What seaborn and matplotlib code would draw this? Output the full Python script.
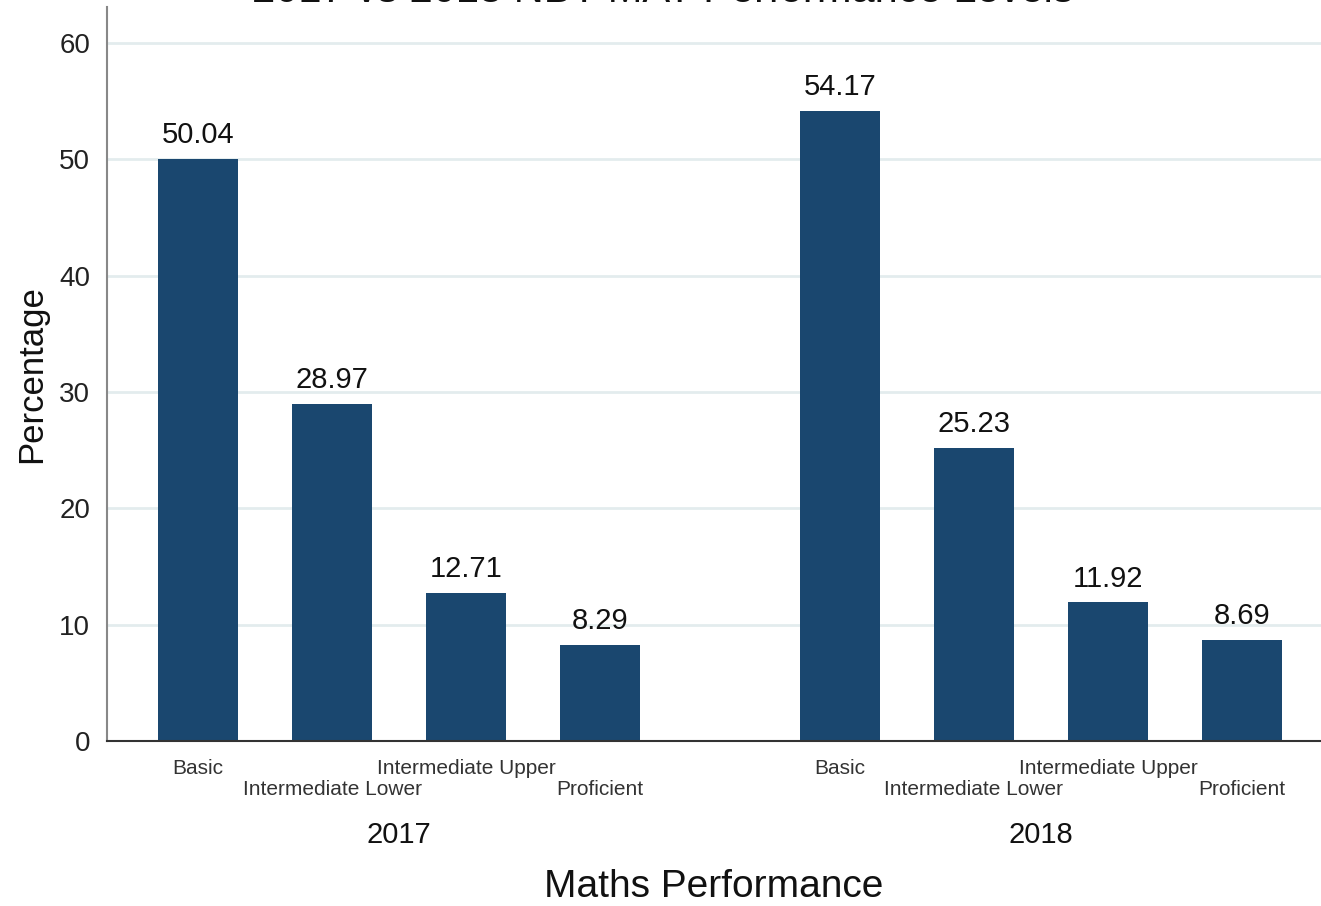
import numpy as np
import pandas as pd
import matplotlib
matplotlib.use("Agg")
import matplotlib.pyplot as plt
import seaborn as sns

levels = ["Basic", "Intermediate Lower", "Intermediate Upper", "Proficient"]
years = ["2017", "2018"]
pct_2017 = [50.04, 28.97, 12.71, 8.29]
pct_2018 = [54.17, 25.23, 11.92, 8.69]

sns.set_style("white")
plt.rcParams["font.family"] = ["Liberation Sans", "DejaVu Sans"]

group_step = 4.79  # distance between the first bars of each year group
rows = []
for yi, (year, vals) in enumerate(zip(years, [pct_2017, pct_2018])):
    for li, (lev, v) in enumerate(zip(levels, vals)):
        rows.append({"year": year, "level": lev, "pct": v, "pos": li + yi * group_step})
df = pd.DataFrame(rows)

fig = plt.figure(figsize=(13.21, 9.06), dpi=100)
ax = fig.add_axes([107 / 1321, 165 / 906, 1214 / 1321, 734 / 906])

sns.barplot(data=df, x="pos", y="pct", native_scale=True, color="#1a476f",
            saturation=1, width=0.6, errorbar=None, linewidth=0, ax=ax)

for c in ax.containers:
    ax.bar_label(c, fmt="%.2f", padding=7, fontsize=21, color="#111111")

ax.set_xlim(-0.679, 8.38)
ax.set_ylim(0, 63.1)
ax.set_yticks(range(0, 61, 10))
ax.tick_params(axis="y", labelsize=20, length=8, width=1.2, color="#777777",
               labelcolor="#222222", pad=4)
ax.yaxis.grid(True, color="#e3ecee", linewidth=2)
ax.set_axisbelow(True)

# staggered category labels, two rows
ax.set_xticks(df["pos"], [""] * len(df))
ax.tick_params(axis="x", length=0)
xt = ax.get_xaxis_transform()
for i, (p, lev) in enumerate(zip(df["pos"], df["level"])):
    yrow = -0.0368 if i % 2 == 0 else -0.0654
    ax.text(p, yrow, lev, transform=xt, ha="center", va="center",
            fontsize=15, color="#333333")

for yi, year in enumerate(years):
    center = 1.5 + yi * group_step
    ax.text(center, -0.128, year, transform=xt,
            ha="center", va="center", fontsize=21, color="#111111")

ax.set_xlabel("")
ax.text(0.5, -0.199, "Maths Performance", transform=ax.transAxes,
        ha="center", va="center", fontsize=28, color="#111111")
ax.set_ylabel("Percentage", fontsize=25, labelpad=8, color="#111111")

for side in ["top", "right"]:
    ax.spines[side].set_visible(False)
ax.spines["left"].set_color("#888888")
ax.spines["left"].set_linewidth(1.5)
ax.spines["bottom"].set_color("#333333")
ax.spines["bottom"].set_linewidth(1.5)

# title sits mostly above the canvas, as in the reference
fig.text(663 / 1321, 1 - 2 / 906, "2017 vs 2018 NBT MAT Performance Levels",
         ha="center", va="baseline", fontsize=30, color="#111111")

fig.savefig("out.png", dpi=100)
